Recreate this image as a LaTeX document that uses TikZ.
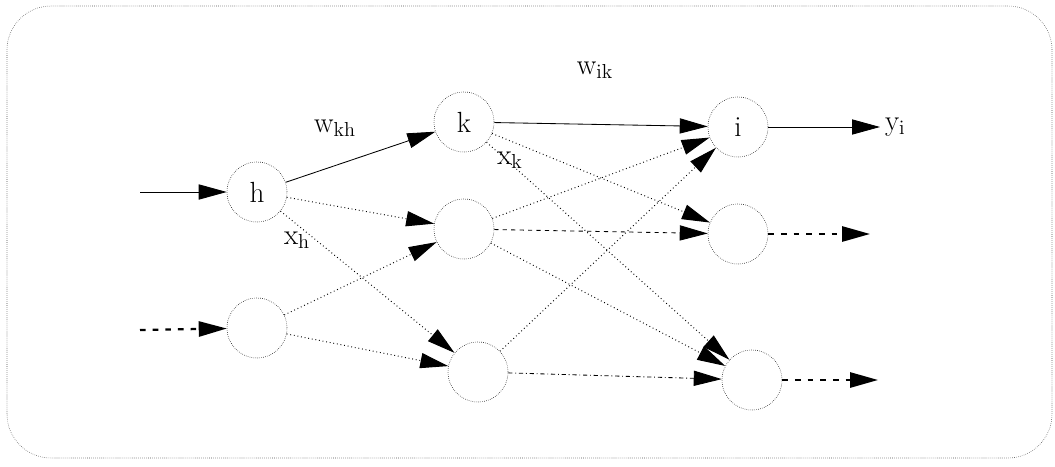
\documentclass[tikz,border=0pt]{standalone}
\usetikzlibrary{arrows.meta}
\tikzset{
	neuron/.style={circle, draw, densely dotted, minimum size=1.5cm, inner sep=0pt, font=\huge},
	tip/.style={-{Triangle[length=0.7cm, width=0.38cm]}, line width=0.6pt},
	weak/.style={tip, dotted, line width=0.7pt},
	heavy/.style={tip, line width=1.6pt, dash pattern=on 4pt off 5pt},
	lbl/.style={font=\huge}
}
\begin{document}
\begin{tikzpicture}

	\useasboundingbox (0, 0) rectangle (26.375, 11.65);
	\draw [thin, black!70, densely dotted, rounded corners=1.1cm] (0.175, 0.2) rectangle (26.3, 11.5);

	\node (a1) [neuron] at (6.425, 6.85) {h};
	\node (a2) [neuron] at (6.425, 3.45) {};

	\foreach \i/\x/\y/\n in {1/11.6/8.6/k, 2/11.6/5.925/, 3/11.95/2.35/} {
		\node (b\i) [neuron] at (\x, \y) {\n};
	}
	\foreach \i/\x/\y/\n in {1/18.45/8.475/i, 2/18.45/5.8/, 3/18.8/2.15/} {
		\node (c\i) [neuron] at (\x, \y) {\n};
	}

	\coordinate (in1) at (3.5, 6.85);
	\coordinate (in2) at (3.5, 3.4);
	\coordinate (out1) at (22.0, 8.475);
	\coordinate (out2) at (21.75, 5.8);
	\coordinate (out3) at (21.95, 2.15);

	\draw [tip] (in1) -- (a1);
	\draw [heavy] (in2) -- (a2);

	\draw [tip] (a1) -- (b1);
	\foreach \s/\t in {a1/b2, a1/b3, a2/b2, a2/b3} {
		\draw [weak] (\s) -- (\t);
	}

	\draw [tip] (b1) -- (c1);
	\foreach \s/\t in {b1/c2, b1/c3, b2/c1, b2/c3, b3/c1} {
		\draw [weak] (\s) -- (\t);
	}
	\draw [tip, dashed] (b2) -- (c2);
	\draw [tip, dash dot] (b3) -- (c3);

	\draw [tip] (c1) -- (out1) node [right, lbl] {$\mathrm{y_i}$};
	\draw [heavy] (c2) -- (out2);
	\draw [heavy] (c3) -- (out3);

	\node [lbl] at (8.375, 8.45) {$\mathrm{w_{kh}}$};
	\node [lbl] at (7.425, 5.65) {$\mathrm{x_h}$};
	\node [lbl] at (14.875, 9.9) {$\mathrm{w_{ik}}$};
	\node [lbl] at (12.75, 7.65) {$\mathrm{x_k}$};

\end{tikzpicture}
\end{document}
